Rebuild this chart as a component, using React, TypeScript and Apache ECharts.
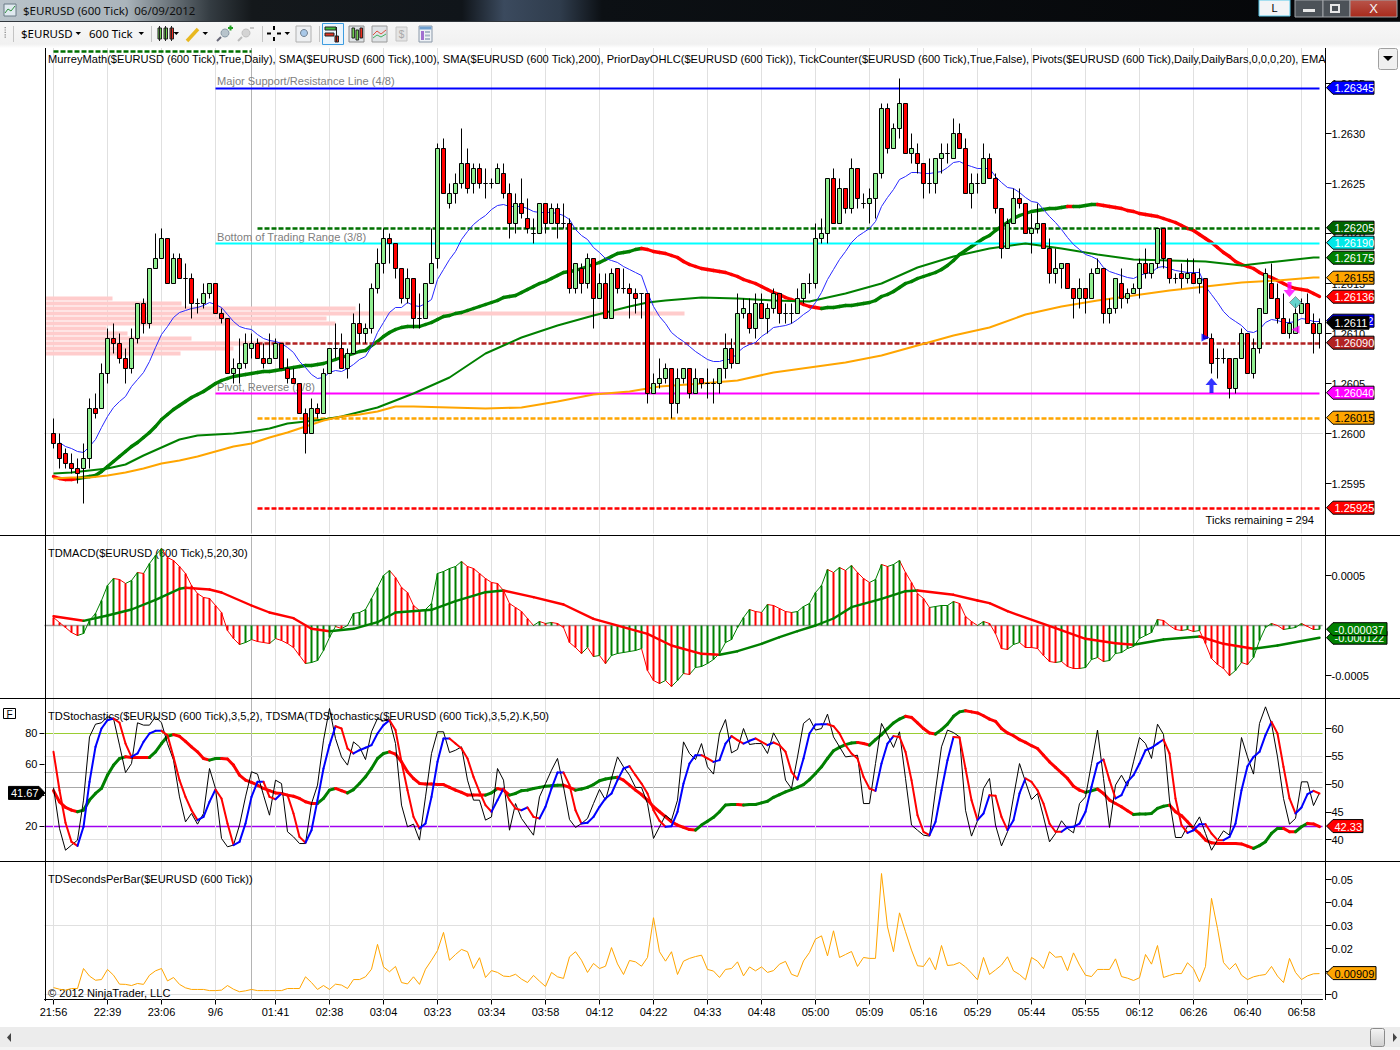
import React, { useEffect, useRef } from "react";
import * as echarts from "echarts";

// ---- Price data, in 1/100000 of a price unit ----
const opens = [
126000,125990,125980,125970,125965,125965,125975,126025,126025,126060,
126095,126090,126075,126065,126095,126130,126110,126165,126175,126195,
126150,126175,126155,126155,126130,126130,126140,126150,126120,126115,
126060,126065,126070,126085,126090,126075,126070,126075,126090,126065,
126055,126050,126020,126000,126025,126020,126060,126085,126085,126065,
126080,126110,126100,126105,126145,126170,126195,126190,126165,126135,
126155,126115,126115,126150,126175,126285,126230,126240,126250,126270,
126250,126265,126250,126250,126250,126260,126240,126210,126230,126215,
126200,126200,126230,126210,126225,126210,126210,126145,126165,126150,
126175,126135,126150,126115,126165,126145,126145,126140,126140,126140,
126040,126050,126055,126065,126030,126055,126065,126040,126055,126050,
126050,126050,126065,126085,126070,126120,126120,126105,126130,126115,
126125,126140,126120,126120,126120,126135,126150,126150,126195,126200,
126255,126210,126245,126225,126265,126230,126230,126235,126260,126325,
126285,126305,126330,126280,126280,126270,126250,126250,126275,126280,
126275,126300,126285,126240,126250,126250,126275,126255,126225,126185,
126210,126235,126230,126200,126205,126210,126185,126160,126165,126170,
126145,126135,126145,126135,126160,126165,126120,126125,126150,126135,
126140,126145,126170,126160,126170,126205,126175,126155,126160,126155,
126160,126150,126155,126095,126075,126075,126075,126045,126075,126100,
126060,126085,126120,126150,126135,126115,126100,126100,126120,126130,
126110,126100];
const closes = [
125990,125975,125970,125965,125960,125975,126025,126020,126060,126095,
126090,126075,126065,126095,126130,126110,126165,126175,126195,126150,
126175,126155,126155,126130,126130,126140,126150,126120,126115,126060,
126065,126070,126090,126090,126075,126070,126075,126090,126065,126055,
126050,126020,126000,126025,126020,126060,126085,126085,126065,126080,
126110,126100,126105,126145,126170,126195,126190,126165,126135,126155,
126115,126115,126150,126170,126285,126240,126240,126250,126270,126245,
126265,126250,126250,126250,126265,126240,126210,126230,126220,126205,
126200,126230,126210,126225,126210,126210,126145,126170,126150,126175,
126135,126150,126115,126160,126145,126145,126140,126135,126140,126040,
126050,126055,126065,126030,126055,126065,126040,126055,126050,126050,
126050,126065,126085,126070,126120,126125,126105,126130,126115,126125,
126140,126120,126120,126120,126135,126150,126150,126195,126200,126255,
126210,126245,126225,126265,126235,126230,126235,126260,126325,126285,
126305,126330,126280,126285,126270,126250,126250,126275,126280,126280,
126300,126285,126240,126250,126250,126275,126255,126225,126185,126210,
126235,126230,126200,126205,126210,126185,126160,126165,126170,126145,
126135,126145,126135,126160,126165,126120,126125,126155,126135,126140,
126145,126170,126160,126170,126205,126175,126155,126155,126155,126160,
126150,126155,126095,126070,126075,126075,126045,126075,126100,126060,
126085,126125,126160,126135,126115,126100,126110,126120,126130,126110,
126100,126110];
const lows = [
125985,125965,125965,125960,125950,125930,125965,126015,126025,126050,
126080,126070,126050,126060,126090,126100,126105,126165,126175,126150,
126150,126155,126125,126115,126120,126125,126135,126120,126110,126060,
126050,126050,126065,126075,126075,126065,126070,126075,126065,126050,
126050,126020,125980,126000,126015,126020,126060,126075,126065,126055,
126080,126090,126090,126100,126140,126160,126170,126155,126130,126130,
126105,126105,126115,126150,126165,126240,126225,126230,126245,126240,
126240,126245,126235,126245,126250,126235,126195,126200,126215,126200,
126190,126200,126200,126210,126195,126205,126140,126140,126140,126145,
126105,126135,126115,126115,126140,126140,126115,126120,126115,126030,
126040,126045,126050,126015,126020,126050,126035,126040,126045,126035,
126030,126040,126055,126065,126070,126115,126100,126095,126115,126100,
126120,126110,126110,126110,126120,126130,126140,126145,126190,126190,
126210,126210,126220,126220,126225,126225,126210,126215,126255,126280,
126285,126295,126280,126270,126260,126235,126240,126240,126260,126270,
126275,126285,126240,126225,126240,126250,126255,126220,126175,126185,
126210,126225,126200,126180,126200,126185,126150,126150,126145,126145,
126115,126125,126120,126135,126160,126110,126110,126120,126125,126130,
126140,126135,126155,126155,126165,126165,126150,126150,126145,126150,
126150,126140,126095,126060,126055,126070,126035,126040,126075,126060,
126055,126080,126120,126135,126110,126100,126095,126100,126120,126110,
126080,126085];
const highs = [
126015,126000,125985,125980,125975,125990,126035,126040,126070,126105,
126110,126100,126085,126105,126130,126135,126165,126200,126205,126195,
126180,126180,126170,126160,126135,126150,126150,126150,126125,126115,
126075,126095,126100,126100,126095,126090,126100,126095,126090,126075,
126065,126050,126025,126035,126030,126065,126085,126110,126100,126085,
126120,126130,126110,126150,126185,126205,126200,126190,126165,126165,
126155,126140,126150,126205,126290,126295,126250,126260,126305,126285,
126270,126270,126265,126255,126270,126270,126250,126240,126255,126235,
126215,126230,126230,126230,126230,126230,126215,126170,126170,126180,
126175,126160,126160,126165,126165,126165,126150,126145,126140,126140,
126060,126075,126070,126065,126065,126065,126065,126065,126055,126065,
126055,126065,126100,126095,126140,126135,126135,126140,126140,126130,
126145,126140,126130,126130,126145,126150,126160,126210,126215,126255,
126265,126255,126245,126275,126265,126240,126245,126260,126330,126330,
126310,126355,126330,126300,126290,126270,126275,126275,126290,126290,
126315,126310,126295,126260,126260,126290,126280,126260,126225,126215,
126245,126245,126230,126220,126230,126210,126195,126185,126170,126170,
126145,126155,126145,126165,126175,126165,126135,126155,126165,126145,
126150,126175,126185,126170,126205,126205,126175,126160,126170,126175,
126175,126165,126155,126100,126085,126085,126075,126075,126105,126100,
126095,126125,126165,126170,126150,126140,126115,126130,126135,126140,
126120,126115];

const emaFast = [
null,125991,125987,125985,125982,125981,125987,125994,126006,126017,
126026,126032,126037,126047,126054,126061,126072,126086,126099,126107,
126116,126121,126123,126125,126126,126128,126131,126129,126126,126119,
126112,126107,126105,126104,126099,126095,126093,126092,126090,126086,
126081,126072,126066,126059,126055,126056,126061,126063,126062,126065,
126069,126074,126077,126087,126101,126111,126121,126126,126126,126131,
126128,126127,126130,126134,126154,126164,126174,126182,126194,126202,
126209,126214,126218,126224,126228,126229,126227,126227,126227,126225,
126222,126221,126221,126221,126220,126218,126214,126204,126198,126194,
126186,126181,126175,126173,126171,126167,126164,126161,126158,126141,
126127,126117,126110,126101,126096,126092,126087,126082,126078,126074,
126072,126072,126074,126074,126081,126086,126089,126091,126097,126101,
126106,126107,126108,126110,126114,126119,126123,126131,126141,126154,
126164,126174,126182,126191,126197,126201,126205,126212,126227,126236,
126244,126254,126257,126261,126261,126260,126260,126261,126262,126266,
126271,126272,126269,126267,126265,126265,126265,126257,126251,126246,
126245,126241,126236,126232,126231,126224,126217,126211,126204,126196,
126189,126184,126179,126177,126174,126166,126162,126160,126158,126156,
126155,126158,126160,126161,126166,126167,126165,126163,126162,126161,
126161,126161,126147,126139,126131,126122,126116,126112,126108,126102,
126101,126104,126111,126114,126113,126111,126111,126112,126115,126114,
126112,126112];

const sma100 = [
125957,125955,125954,125954,125955,125956,125957,125958,125962,125967,
125972,125977,125982,125987,125991,125996,126001,126007,126014,126019,
126024,126028,126032,126036,126039,126042,126046,126050,126053,126055,
126057,126058,126059,126060,126061,126062,126062,126063,126064,126065,
126066,126067,126068,126068,126069,126070,126072,126074,126076,126078,
126080,126082,126083,126088,126092,126097,126101,126104,126106,126107,
126107,126107,126109,126111,126114,126117,126118,126120,126121,126123,
126125,126127,126129,126131,126133,126136,126137,126138,126141,126144,
126147,126150,126152,126155,126158,126161,126162,126163,126165,126167,
126169,126171,126174,126177,126180,126181,126182,126184,126185,126184,
126182,126181,126180,126178,126176,126172,126169,126167,126165,126164,
126163,126162,126161,126159,126157,126154,126152,126150,126147,126144,
126141,126139,126136,126134,126132,126129,126127,126126,126125,126126,
126126,126127,126128,126128,126129,126130,126131,126133,126137,126139,
126142,126146,126150,126152,126155,126157,126159,126161,126164,126168,
126173,126179,126183,126187,126191,126195,126198,126203,126207,126211,
126215,126218,126220,126222,126223,126224,126225,126225,126226,126227,
126227,126227,126228,126229,126229,126228,126227,126226,126225,126223,
126222,126220,126219,126218,126217,126215,126213,126211,126208,126205,
126203,126199,126195,126191,126186,126181,126177,126172,126169,126167,
126165,126161,126158,126156,126153,126150,126147,126145,126144,126143,
126140,126137];
const sma100RedRanges = [[0,4],[98,128],[169,170],[174,211]];

const sma200Points = [[0,125960],[3,125961],[6,125963],[9,125965],[12,125969],[15,125978],[18,125986],[21,125994],[24,125998],[27,125999],[30,126000],[33,126002],[36,126005],[39,126010],[42,126012],[45,126014],[48,126017],[54,126026],[60,126040],[66,126056],[72,126080],[78,126096],[84,126108],[90,126118],[96,126127],[99,126131],[102,126133],[108,126136],[114,126135],[120,126133],[126,126132],[132,126140],[138,126150],[144,126166],[150,126177],[156,126185],[162,126190],[168,126185],[174,126179],[180,126174],[186,126173],[192,126172],[198,126168],[204,126172],[210,126176],[211,126176]];
const emaSlowPoints = [[0,125955],[3,125956],[6,125956],[9,125958],[12,125961],[15,125965],[18,125970],[21,125973],[24,125977],[27,125982],[30,125987],[33,125990],[36,125996],[39,126001],[42,126007],[45,126013],[48,126017],[51,126019],[54,126022],[57,126027],[60,126027],[66,126026],[72,126025],[78,126026],[84,126032],[90,126039],[96,126042],[101,126047],[108,126050],[114,126053],[120,126061],[126,126066],[132,126071],[138,126078],[144,126088],[150,126098],[156,126106],[162,126119],[168,126127],[174,126133],[180,126138],[186,126143],[192,126147],[198,126151],[204,126153],[210,126156],[211,126156]];

// Murrey / prior-day levels
const levelPrices = [126345,126205,126190,126090,126040,126015,125925,126382];
const levelStartBars = [27,34,27,34,27,34,34,0];
const levelEndBars = [211,211,211,211,211,211,211,33];
const levelColors = ["#0000ff","#007000","#00ffff","#b22222","#ff00ff","#ffa500","#ff0000","#007000"];
const levelDashed = [false,true,false,true,false,true,true,true];

// Volume-by-price bands (band price, relative length)
const profilePrices = [126135,126130,126125,126120,126115,126110,126105,126100,126095,126090,126085,126080];
const profileLengths = [68,137,311,640,282,291,62,83,147,244,189,136];

// MACD, in 1/100000
const macdHist = [
8,3,-2,-7,-10,-8,5,12,25,40,
47,46,42,45,53,52,62,70,77,68,
65,59,52,40,32,28,27,20,13,-5,
-13,-19,-17,-14,-16,-17,-18,-13,-15,-18,
-22,-30,-38,-37,-35,-25,-12,-1,-3,0,
12,13,16,27,38,50,55,48,38,33,
20,15,16,22,52,54,57,59,64,59,
57,52,47,43,42,35,22,18,14,7,
0,4,2,3,2,-2,-17,-22,-28,-22,
-31,-30,-38,-30,-28,-27,-26,-25,-23,-45,
-55,-58,-55,-61,-55,-48,-49,-42,-41,-38,
-34,-28,-17,-14,-2,8,16,14,13,21,
20,17,14,13,14,19,22,33,40,56,
53,58,55,60,53,47,43,46,61,59,
61,65,53,43,32,27,18,19,20,20,
24,22,9,4,0,4,2,-8,-23,-24,
-19,-17,-22,-22,-23,-30,-36,-37,-36,-41,
-43,-43,-42,-34,-32,-36,-35,-28,-27,-23,
-21,-13,-10,-7,6,5,0,-4,-5,-4,
-6,-5,-18,-33,-39,-43,-50,-45,-37,-39,
-32,-15,-2,2,0,-4,-3,-2,2,-1,
-4,-3.7];
const macdSignalPoints = [[0,9.3],[5,4.7],[9,10],[13,16],[17,25.7],[21,36.7],[22,37.7],[26,36],[28,33],[33,20],[36,13],[40,7.3],[43,-3.3],[46,-5.7],[50,-3.3],[54,3.3],[57,13],[63,15.7],[67,24.3],[72,33.3],[75,35],[80,28.3],[85,21],[90,6.7],[96,-3.3],[99,-8.3],[103,-20],[108,-28.3],[111,-29.3],[114,-25.7],[118,-18.3],[121,-11.7],[124,-5.7],[127,0],[130,7],[133,18.3],[138,26.7],[142,34.3],[144,35],[150,30.7],[154,25],[156,22.3],[159,14.3],[167,-2.7],[172,-13.3],[177,-17.7],[180,-19.3],[185,-14],[191,-11],[195,-18.3],[200,-23.3],[204,-20],[211,-12.2]];

// Stochastics, left scale
const stochK = [
45.2,18.7,4.7,8,11.2,37,77.8,86,86.9,90.8,
89.7,72.5,54.8,60.6,86.9,85.4,85.4,90.8,86.9,73.5,
62.8,39.1,23,28.4,21.5,28.4,57.4,44.5,12.3,6.9,
8,20.9,39.1,55.3,53.8,40.2,27.3,49.9,47.7,16.6,
13.3,9,9,34.8,46.7,75.7,96.1,76.8,64.9,59.6,
74.6,71.4,63.2,81.1,89.7,88.2,88.6,73.5,33.8,19.8,
21.5,11.2,39.1,67.1,81.1,81.1,67.7,69.2,71.4,49.9,
37,37,24.1,26.2,57.4,49.9,17.6,34.8,25.2,19.8,
14.4,39.1,47.7,56.3,63.9,45.6,24.5,19.4,21.9,25.2,
34.8,43.9,37,51,64.9,58.5,53.1,45.2,45.2,34.8,
12.3,19.8,27.3,24.1,37,74.6,67.1,63.2,73.5,58.5,
53.8,80,89,67.5,69.7,83.2,72.9,73.5,73.5,67.1,
80.4,73.5,49.9,44.5,64.9,86.5,89.7,82.2,83.2,92.5,
77.8,71.4,64.9,65.4,66,34.8,34.8,60.6,86.5,78.9,
71,81.1,51,20.9,17.6,14.4,13.8,43.4,71.4,82.2,
80.6,77.8,30.5,13.8,23.7,44.5,51,20.9,7.5,16.6,
39.1,60.6,48.8,37.4,41.3,26.2,10.1,15.5,23.7,18.7,
15.9,34.8,39.1,60.6,82.2,51,19.4,46.7,53.1,46,
61.7,77.4,73.5,63.9,86,79.4,37,12.9,12.9,20.2,
19.8,26.2,15.5,4.7,11.2,17.2,14.4,45.6,77.4,64.9,
53.8,86.5,97.2,86.5,64.9,38.1,21.5,25.2,48.8,48.8,
33.5,41.67];
const stochD = [
68.2,43.4,22.4,10.1,7.5,19.8,48.8,71.4,83.2,88.6,
89.7,86.9,73.5,64.9,67.1,74.6,80,81.7,81.7,78.9,
64.9,49.9,39.1,30.5,24.1,26.2,35.9,43.9,38.1,21.9,
8,10.1,21.9,39.1,48.8,48.8,39.1,37.6,41.3,40.2,
28.4,13.3,9.5,17.6,37,57.4,72.5,84.7,83.2,70.3,
67.1,69.2,70.8,72.5,80,85.4,88.6,82.2,61.7,43.4,
26.2,18.7,21.9,39.1,61.7,76.8,76.8,73.5,70.3,63.9,
52,42.4,33.8,29.5,37,44.5,37,31.6,30.5,32.3,
26.2,25.2,32.7,44.5,54.8,54.8,46.7,30.5,21.9,22.4,
26.2,32.7,38.1,41.3,49.9,57.4,58.9,53.1,47.7,41.3,
30.5,23.7,19.8,20.2,29.5,47.7,60.6,66,66,63.9,
61.7,62.8,73.5,78.3,75.7,73.5,75.3,76.8,74.6,72.5,
74.2,72.5,68.2,55.3,50.3,63.9,80,85.8,86,86,
84.7,80,72.5,67.1,63.9,52,44.5,43,60.6,73.5,
78.3,77.8,68.2,49.9,27.3,16.6,14.4,23,43.4,62.8,
77.8,77.4,57.4,37,24.1,28.4,40.2,39.8,26.2,17.6,
24.1,41.3,51,48.8,43.4,34.8,21.9,16.6,16.6,19.4,
19.8,21.9,29.5,45.6,60.6,63.2,49.9,38.1,40.2,48.8,
53.1,60.6,69.2,70.8,73.5,76.1,67.1,38.1,20.9,15.9,
17.6,21.5,21.5,15.5,11.2,11.2,13.3,21.9,43.4,58.9,
64.9,68.2,78.9,87.5,80,58.5,38.1,28.4,32.3,40.9,
43,41.3];
// TDSMA of the stochastic, right scale
const stochSma = [
48.8,46.8,45.8,45.3,45,45.3,47.1,48.3,49.2,51.6,
53.4,54.6,54.9,54.8,54.8,54.8,54.8,55.8,57.3,58.6,
58.9,58.6,57.7,56.7,55.8,54.6,54.3,54.6,54.6,54.5,
53.4,51.6,50.7,50.3,49.8,49.2,48.8,48.4,48.3,48,
47.8,47.4,46.8,46.5,46.5,47.4,48.9,49.2,48.8,48.4,
49,50.1,51.3,52.8,54.6,55.5,55.8,55.4,54,52.2,
51,50.1,50,50,49.9,49.9,49.4,48.9,48.5,48,
48,48,48,48.4,49.2,48.9,48,48.3,48.8,48.9,
49.2,49.4,49.6,49.7,49.8,49.8,49.4,48.9,49.1,49.4,
49.9,50.6,50.9,51.1,51.2,50.7,49.8,48.9,48.1,47.1,
45.9,45,44.1,43.2,42.6,42.2,41.8,41.7,42.6,43.3,
44,45,46.2,46.3,46.3,46.2,46.3,46.3,46.6,46.9,
47.6,48.1,48.6,49,49.4,49.9,50.8,51.9,53.1,54.6,
56,56.6,57.1,57.4,57.5,57.3,57,58,58.9,60,
61,61.7,62.2,62,61,60,59.2,59,59.8,60.8,
62.2,63,63.2,63,62.8,62.3,61.7,61.3,60,59.2,
58.7,58,57.5,56.9,56.4,55.2,54,53,52,51,
49.6,48.9,48.5,48.8,49.1,48.3,47.1,46.5,45.9,45.2,
44.5,44.6,44.6,44.7,45.6,46,46.2,45,44.3,43.2,
42,41.1,39.9,39.4,39.3,39.3,39.3,39.3,39.2,38.8,
38.4,38.9,39.6,41.1,42,42,41.4,41.4,42.3,42.9,
42.8,42.33];

const secondsPerBar = [
.0030,.0023,.0019,.0026,.0026,.0113,.0080,.0062,.0065,.0109,
.0084,.0045,.0044,.0039,.0048,.0044,.0084,.0103,.0113,.0059,
.0074,.0044,.0029,.0022,.0022,.0022,.0017,.0017,.0019,.0039,
.0023,.0012,.0016,.0022,.0017,.0017,.0017,.0017,.0017,.0026,
.0026,.0026,.0077,.0052,.0022,.0039,.0022,.0045,.0041,.0026,
.0065,.0065,.0077,.0110,.0218,.0120,.0099,.0122,.0052,.0046,
.0077,.0044,.0110,.0149,.0191,.0270,.0149,.0174,.0196,.0186,
.0113,.0160,.0074,.0104,.0096,.0080,.0078,.0088,.0067,.0052,
.0083,.0058,.0035,.0096,.0077,.0070,.0164,.0186,.0149,.0096,
.0135,.0113,.0123,.0204,.0133,.0087,.0148,.0142,.0123,.0161,
.0334,.0186,.0145,.0186,.0087,.0145,.0157,.0165,.0171,.0109,
.0102,.0074,.0109,.0113,.0142,.0081,.0120,.0103,.0120,.0096,
.0104,.0132,.0144,.0088,.0078,.0146,.0183,.0241,.0255,.0168,
.0277,.0161,.0174,.0187,.0122,.0161,.0157,.0157,.0526,.0294,
.0186,.0355,.0273,.0193,.0125,.0122,.0160,.0107,.0213,.0126,
.0129,.0139,.0120,.0093,.0064,.0161,.0087,.0107,.0128,.0164,
.0103,.0087,.0064,.0161,.0145,.0113,.0186,.0162,.0165,.0104,
.0181,.0128,.0084,.0078,.0109,.0109,.0109,.0155,.0078,.0071,
.0061,.0073,.0174,.0132,.0213,.0074,.0083,.0091,.0091,.0138,
.0112,.0055,.0122,.0418,.0287,.0139,.0109,.0135,.0084,.0065,
.0077,.0083,.0087,.0122,.0080,.0052,.0157,.0096,.0065,.0081,
.0090,.00909];

// Axis
const tickBars = [0,9,18,27,37,46,55,64,73,82,91,100,109,118,127,136,145,154,163,172,181,190,199,208];
const tickLabels = ["21:56","22:39","23:06","9/6","01:41","02:38","03:04","03:23","03:34","03:58","04:12","04:22","04:33","04:48","05:00","05:09","05:16","05:29","05:44","05:55","06:12","06:26","06:40","06:58"];
const sessionBreakBar = 33;
const priceTicks = [1.2595,1.26,1.2605,1.261,1.2615,1.262,1.2625,1.263,1.2635];
const macdTicks = [0.0005,-0.0005];
const stochLeftTicks = [20,40,60,80];
const stochRightTicks = [40,45,50,55,60];
const secondsTicks = [0,0.01,0.02,0.03,0.04,0.05];

const FONT = "Liberation Sans";
const UP = "#008000", DOWN = "#ff0000";
const N = opens.length;
const px = (v: number) => v / 1e5;
const cat = (i: number) => i + 1; // a blank leading slot pads the left edge of the plots
const lead = (a: any[]) => [null, ...a];

function slopeColors(vals: number[], up: string, down: string) {
  const out: string[] = [];
  let c = down;
  vals.forEach((v, i) => {
    if (i > 0) { if (v > vals[i - 1]) c = up; else if (v < vals[i - 1]) c = down; }
    out.push(c);
  });
  if (out.length > 1) out[0] = out[1];
  return out;
}

function segSeries(points: number[][], colors: string[], width: number, xIdx: number, yIdx: number, z = 3) {
  return {
    type: "custom", coordinateSystem: "cartesian2d", xAxisIndex: xIdx, yAxisIndex: yIdx, z, silent: true,
    data: points, encode: { x: 0, y: 1 },
    renderItem: (params: any, api: any) => {
      const i = params.dataIndex;
      if (i === 0) return null;
      const a = api.coord(points[i - 1]);
      const b = api.coord(points[i]);
      return { type: "line", shape: { x1: a[0], y1: a[1], x2: b[0], y2: b[1] }, style: { stroke: colors[i], lineWidth: width, lineCap: "round" } };
    },
  };
}

function gridSeries(xIdx: number, yIdx: number, anchor: number, hs: any[], verticals: boolean) {
  const vs = verticals ? [
    ...tickBars.map((b) => ({ xAxis: cat(b), lineStyle: { color: "#e0e0e0", width: 1, type: "solid" } })),
    { xAxis: cat(sessionBreakBar), lineStyle: { color: "#b4b4b4", width: 1, type: "solid" } },
  ] : [];
  return {
    type: "line", xAxisIndex: xIdx, yAxisIndex: yIdx, z: 1, silent: true, symbol: "none",
    data: [[1, anchor]], lineStyle: { opacity: 0 },
    markLine: {
      z: 1, silent: true, symbol: ["none", "none"], label: { show: false }, animation: false,
      emphasis: { disabled: true },
      data: [...hs.map((h) => ({ yAxis: h[0], lineStyle: { color: h[1], width: h[2] || 1, type: "solid" } })), ...vs],
    },
  };
}

function buildOption() {
  const L = 44.5, W = 1278;
  const grids = [
    { left: L, width: W, top: 47.5, height: 486 },
    { left: L, width: W, top: 536.5, height: 162 },
    { left: L, width: W, top: 698.5, height: 162 },
    { left: L, width: W, top: 861.5, height: 138 },
  ];
  const cats = ["", ...Array.from({ length: N }, (_, i) => { const k = tickBars.indexOf(i); return k >= 0 ? tickLabels[k] : ""; })];
  const isTick = (index: number) => tickBars.includes(index - 1);
  const xAxis: any[] = grids.map((_, g) => ({
    type: "category", gridIndex: g, data: cats, boundaryGap: true,
    axisLine: { show: g === 3, onZero: false, lineStyle: { color: "#000" } },
    axisTick: { show: g === 3, alignWithLabel: true, interval: isTick, length: 5, lineStyle: { color: "#000" } },
    axisLabel: { show: g === 3, interval: isTick, margin: 7, color: "#000", fontSize: 11, fontFamily: FONT, hideOverlap: false },
    splitLine: { show: false },
  }));
  xAxis.push({ type: "value", gridIndex: 0, min: 0, max: W, show: false });

  const rightAxis = (g: number, min: number, max: number, ticks: number[], fmt: (v: number) => string) => ({
    type: "value", gridIndex: g, position: "right", offset: 3, min, max, scale: true,
    axisLine: { show: false, onZero: false },
    axisTick: { show: true, length: 6, customValues: ticks, lineStyle: { color: "#000" } },
    axisLabel: { show: true, customValues: ticks, formatter: fmt, margin: 6, color: "#000", fontSize: 11, fontFamily: FONT, showMinLabel: true, showMaxLabel: true },
    splitLine: { show: false },
  });
  const yAxis: any[] = [
    rightAxis(0, 1.259, 1.26386, priceTicks, (v) => v.toFixed(4)),
    rightAxis(1, -0.00073, 0.00089, macdTicks, (v) => v.toFixed(4)),
    {
      type: "value", gridIndex: 2, position: "left", min: -1.94, max: 102.58,
      axisLine: { show: false, onZero: false },
      axisTick: { show: true, length: 5, customValues: stochLeftTicks, lineStyle: { color: "#000" } },
      axisLabel: { show: true, customValues: stochLeftTicks, margin: 7, color: "#000", fontSize: 11, fontFamily: FONT },
      splitLine: { show: false },
    },
    rightAxis(2, 36.22, 65.41, stochRightTicks, (v) => String(v)),
    rightAxis(3, -0.00217, 0.05783, secondsTicks, (v) => (v === 0 ? "0" : v.toFixed(2))),
  ];

  const series: any[] = [];
  // ---- grid lines ----
  series.push(gridSeries(0, 0, 1.26, priceTicks.map((v) => [v, "#e0e0e0"]), true));
  series.push(gridSeries(1, 1, 0, [[0.0005, "#e0e0e0"], [-0.0005, "#e0e0e0"]], true));
  series.push(gridSeries(2, 2, 50, [[80, "#9acd32"], [55, "#a8a8a8"], [45, "#a8a8a8"], [20, "#a000f0", 1.3]], true));
  series.push(gridSeries(2, 3, 50, [[55, "#e0e0e0"], [40, "#e0e0e0"]], false));
  series.push(gridSeries(3, 4, 0, [[0, "#e0e0e0"], [0.03, "#e0e0e0"]], true));

  // ---- volume profile ----
  series.push({
    type: "custom", coordinateSystem: "cartesian2d", xAxisIndex: 4, yAxisIndex: 0, z: 2, silent: true,
    data: profilePrices.map((p, i) => [profileLengths[i], px(p)]), encode: { x: 0, y: 1 },
    renderItem: (_: any, api: any) => {
      const a = api.coord([0, api.value(1)]);
      const b = api.coord([api.value(0), api.value(1)]);
      return { type: "rect", shape: { x: a[0] + 1.5, y: a[1] - 2, width: b[0] - a[0] - 1.5, height: 4 }, style: { fill: "#ffcccc" } };
    },
  });

  // ---- levels ----
  levelPrices.forEach((p, i) => {
    series.push({
      type: "line", xAxisIndex: 0, yAxisIndex: 0, z: 3, silent: true, symbol: "none",
      data: [[cat(levelStartBars[i]), px(p)], [cat(levelEndBars[i]), px(p)]],
      lineStyle: levelDashed[i] ? { color: levelColors[i], width: 2.4, type: [5, 2] } : { color: levelColors[i], width: 2, type: "solid" },
    });
  });

  // ---- moving averages ----
  const inRed = (i: number) => sma100RedRanges.some(([a, b]) => i > a && i <= b);
  series.push(segSeries(sma100.map((v, i) => [cat(i), px(v)]), sma100.map((_, i) => (inRed(i) ? DOWN : UP)), 3.4, 0, 0));
  series.push({ type: "line", xAxisIndex: 0, yAxisIndex: 0, z: 3, silent: true, symbol: "none", data: sma200Points.map(([b, v]) => [cat(b), px(v)]), lineStyle: { color: "#008000", width: 2 } });
  series.push({ type: "line", xAxisIndex: 0, yAxisIndex: 0, z: 3, silent: true, symbol: "none", data: emaSlowPoints.map(([b, v]) => [cat(b), px(v)]), lineStyle: { color: "#ffa500", width: 2 } });
  series.push({ type: "line", xAxisIndex: 0, yAxisIndex: 0, z: 3, silent: true, symbol: "none", data: lead(emaFast.map((v) => (v == null ? null : px(v)))), lineStyle: { color: "#2a2aff", width: 1 }, connectNulls: false });

  // ---- candles ----
  series.push({
    type: "candlestick", xAxisIndex: 0, yAxisIndex: 0, z: 4, silent: true, barWidth: 5,
    data: [["-", "-", "-", "-"], ...opens.map((o, i) => [px(o), px(closes[i]), px(lows[i]), px(highs[i])])],
    itemStyle: { color: "#90ee90", color0: "#ff0000", borderColor: "#000", borderColor0: "#000", borderColorDoji: "#000", borderWidth: 1 },
  });
  series.push({
    type: "scatter", xAxisIndex: 0, yAxisIndex: 0, z: 5, silent: true,
    data: [
      { value: [cat(193), 1.26048], symbol: "path://M6,0 L12,7 L8,7 L8,15 L4,15 L4,7 L0,7 Z", symbolSize: [12, 15], itemStyle: { color: "#0000ff" } },
      { value: [cat(206), 1.26144], symbol: "path://M6,0 L12,7 L8,7 L8,15 L4,15 L4,7 L0,7 Z", symbolSize: [12, 15], symbolRotate: 180, itemStyle: { color: "#ff00ff" } },
      { value: [cat(207), 1.26131], symbol: "diamond", symbolSize: 12, itemStyle: { color: "#40c8c0", borderColor: "#808080", borderWidth: 1 } },
      { value: [cat(192), 1.26096], symbol: "triangle", symbolRotate: 270, symbolSize: 8, itemStyle: { color: "#0000ff" } },
      { value: [cat(207), 1.26104], symbol: "triangle", symbolRotate: 90, symbolSize: 8, itemStyle: { color: "#ff00ff" } },
    ],
  });

  // ---- MACD ----
  const macdColors = slopeColors(macdHist, UP, DOWN);
  series.push({
    type: "bar", xAxisIndex: 1, yAxisIndex: 1, z: 3, silent: true, barWidth: 2,
    data: [null, ...macdHist.map((v, i) => ({ value: v * 1e-5, itemStyle: { color: macdColors[i] } }))],
  });
  series.push(gridSeries(1, 1, 0, [[0, "#a0a0a0", 1.4]], false));
  series.push(segSeries(macdHist.map((v, i) => [cat(i), v * 1e-5]), macdColors, 1, 1, 1));
  const sig = macdSignalPoints.map(([b, v]) => v);
  series.push(segSeries(macdSignalPoints.map(([b, v]) => [cat(b), v * 1e-5]), slopeColors(sig, UP, DOWN), 2.4, 1, 1, 4));

  // ---- Stochastics ----
  series.push({ type: "line", xAxisIndex: 2, yAxisIndex: 2, z: 3, silent: true, symbol: "none", data: lead(stochK), lineStyle: { color: "#000", width: 1 } });
  series.push(segSeries(stochSma.map((v, i) => [cat(i), v]), slopeColors(stochSma, UP, DOWN), 3, 2, 3, 3));
  series.push(segSeries(stochD.map((v, i) => [cat(i), v]), slopeColors(stochD, "#0000ff", DOWN), 2, 2, 2, 4));

  // ---- Seconds per bar ----
  series.push({ type: "line", xAxisIndex: 3, yAxisIndex: 4, z: 3, silent: true, symbol: "none", data: lead(secondsPerBar), lineStyle: { color: "#ffa500", width: 1 } });

  return { animation: false, backgroundColor: "#fff", textStyle: { fontFamily: FONT }, grid: grids, xAxis, yAxis, series };
}

// ---- helpers for the surrounding elements ----
const rect = (x: number, y: number, w: number, h: number, fill: any, extra: any = {}) => ({ type: "rect", z: 10, silent: true, shape: { x, y, width: w, height: h, ...(extra.r ? { r: extra.r } : {}) }, style: { fill, stroke: extra.stroke, lineWidth: extra.lw || 1 } });
const hl = (x1: number, y1: number, x2: number, y2: number, stroke: string, lw = 1, z = 8) => ({ type: "line", z, silent: true, shape: { x1, y1, x2, y2 }, style: { stroke, lineWidth: lw } });
const txt = (x: number, y: number, text: string, opt: any = {}) => ({
  type: "text", z: opt.z ?? 2, silent: true, x, y,
  style: { text, fill: opt.fill || "#000", fontSize: opt.size || 11.1, fontFamily: opt.font || FONT, align: opt.align || "left", verticalAlign: "middle" },
});
const poly = (points: number[][], fill: string, stroke?: string, z = 10) => ({ type: "polygon", z, silent: true, shape: { points }, style: { fill, stroke, lineWidth: 1 } });

function tag(rawY: number, text: string, fill: string, fg: string, right: number, lift = 0.8) {
  const y = rawY - lift;
  const h = 6.5;
  return [
    poly([[1326.5, y], [1333, y - h], [right, y - h], [right, y + h], [1333, y + h]], fill, "#000", 12),
    { ...txt(1334.5, y + 0.5, text, { fill: fg, z: 12, size: 11 }) },
  ];
}

function chrome() {
  const UI = "Noto Sans";
  const g: any[] = [];
  const titleGrad = new echarts.graphic.LinearGradient(0, 0, 1, 0, [
    { offset: 0, color: "#b9c3ca" }, { offset: 0.09, color: "#aab4bb" }, { offset: 0.15, color: "#343c42" },
    { offset: 0.18, color: "#14181b" }, { offset: 0.33, color: "#10151a" }, { offset: 0.36, color: "#3b4a5e" },
    { offset: 0.4, color: "#2f3c4c" }, { offset: 0.43, color: "#0c1014" }, { offset: 1, color: "#050608" },
  ]);
  g.push(rect(0, 0, 1400, 21, titleGrad));
  g.push(rect(0, 21, 1400, 1, "#30363c"));
  g.push(rect(0, 22, 1400, 26, new echarts.graphic.LinearGradient(0, 0, 0, 1, [{ offset: 0, color: "#f7f7f7" }, { offset: 0.85, color: "#f1f1f1" }, { offset: 1, color: "#ffffff" }])));
  g.push(rect(4, 4, 12, 12, "#dfe9ef", { stroke: "#6a7a86" }));
  g.push({ type: "polyline", z: 11, silent: true, shape: { points: [[5, 13], [8, 9], [11, 11], [15, 6]] }, style: { stroke: "#2f8f3f", fill: null, lineWidth: 1 } });
  g.push(txt(23, 10.5, "$EURUSD (600 Tick)  06/09/2012", { size: 11.5, font: UI, fill: "#101010", z: 11 }));
  // window buttons
  g.push(rect(1259, 0, 31, 16, "#f2f4f6", { stroke: "#58c8e8" }));
  g.push(txt(1274.5, 8, "L", { size: 11, align: "center", z: 11, font: FONT }));
  g.push(rect(1295, 0, 28, 17, "#4c5258", { stroke: "#a0a4a8" }));
  g.push(rect(1303, 9, 12, 3, "#e8e8e8"));
  g.push(rect(1323, 0, 27, 17, "#4c5258", { stroke: "#a0a4a8" }));
  g.push(rect(1331, 5, 8, 7, "none", { stroke: "#e8e8e8", lw: 2 }));
  g.push(rect(1350, 0, 47, 17, new echarts.graphic.LinearGradient(0, 0, 0, 1, [{ offset: 0, color: "#b8554a" }, { offset: 1, color: "#a82a1c" }]), { stroke: "#a0a4a8" }));
  g.push(txt(1373.5, 8, "X", { size: 13, align: "center", fill: "#f4f4f4", z: 11 }));

  // toolbar
  for (let i = 0; i < 5; i++) g.push(rect(4.5, 27 + i * 2.4, 1.5, 1.2, "#999"));
  [13.5, 151.5, 262.5, 319.5].forEach((x) => g.push(hl(x, 26, x, 42, "#c4c4c4", 1, 11)));
  g.push(txt(21, 33.5, "$EURUSD", { size: 11.5, font: UI, z: 11 }));
  g.push(poly([[75.5, 32], [81, 32], [78.3, 35]], "#000", undefined, 11));
  g.push(txt(89, 33.5, "600 Tick", { size: 11.5, font: UI, z: 11 }));
  g.push(poly([[138.5, 32], [144, 32], [141.3, 35]], "#000", undefined, 11));
  // candle icon
  [[158, "#70d050"], [164, "#70d050"], [170, "#f03020"]].forEach(([x, c]: any) => {
    g.push(hl(x + 1.5, 26, x + 1.5, 41, "#222", 1, 11));
    g.push(rect(x, 28, 3.5, 11, c, { stroke: "#222" }));
  });
  g.push(poly([[173.5, 32], [179, 32], [176.3, 35]], "#000", undefined, 11));
  g.push(hl(187, 41, 198, 29, "#e8b820", 3.5, 11));
  g.push(poly([[202.5, 32], [208, 32], [205.3, 35]], "#000", undefined, 11));
  g.push({ type: "circle", z: 11, silent: true, shape: { cx: 225, cy: 33, r: 4 }, style: { fill: "#b8c4cc", stroke: "#8898a4" } });
  g.push(hl(221, 37, 217, 41, "#667", 2, 11));
  g.push(hl(228, 28, 233, 28, "#20a020", 2, 11));
  g.push(hl(230.5, 25.5, 230.5, 30.5, "#20a020", 2, 11));
  g.push({ type: "circle", z: 11, silent: true, shape: { cx: 246, cy: 33, r: 4 }, style: { fill: "#d4d4d4", stroke: "#c0c0c0" } });
  g.push(hl(242, 37, 238, 41, "#bbb", 2, 11));
  g.push(hl(250, 28, 254, 28, "#c8c8c8", 2, 11));
  g.push(hl(267, 33.5, 271, 33.5, "#000", 2, 11)); g.push(hl(277, 33.5, 281, 33.5, "#000", 2, 11));
  g.push(hl(274, 26, 274, 30, "#000", 2, 11)); g.push(hl(274, 37, 274, 41, "#000", 2, 11));
  g.push(poly([[284.5, 32], [290, 32], [287.3, 35]], "#000", undefined, 11));
  g.push(rect(296, 26, 15, 16, "#eef0f2", { stroke: "#b0b0b0" }));
  g.push({ type: "circle", z: 11, silent: true, shape: { cx: 304, cy: 33, r: 3.5 }, style: { fill: "#a8c8e8", stroke: "#708090" } });
  g.push(rect(322.5, 23.5, 21, 21, "#eaf4fc", { stroke: "#3c9ce0" }));
  g.push(rect(325, 27, 11, 3, "#40c040", { stroke: "#222" })); g.push(rect(325, 33, 9, 3, "#e03020", { stroke: "#222" }));
  g.push(hl(336.5, 27, 336.5, 42, "#222", 1, 11)); g.push(rect(335, 36, 3.5, 6, "#e03020", { stroke: "#222" }));
  g.push(rect(349, 26, 15, 16, "#dfe3e6", { stroke: "#8a8a8a" }));
  g.push(rect(352, 28, 2.6, 10, "#70d050", { stroke: "#222" })); g.push(rect(356, 30, 2.6, 10, "#70d050", { stroke: "#222" })); g.push(rect(360, 28, 2.6, 10, "#f03020", { stroke: "#222" }));
  g.push(rect(372, 26, 15, 16, "#dfe3e6", { stroke: "#9a9a9a" }));
  g.push({ type: "polyline", z: 11, silent: true, shape: { points: [[373, 35], [377, 31], [381, 34], [386, 30]] }, style: { stroke: "#e05040", fill: null } });
  g.push({ type: "polyline", z: 11, silent: true, shape: { points: [[373, 38], [377, 35], [381, 37], [386, 34]] }, style: { stroke: "#40b060", fill: null } });
  g.push(rect(396, 27, 11, 14, "#e4e4e4", { stroke: "#c4c4c4" }));
  g.push(txt(401.5, 34, "$", { size: 10, align: "center", fill: "#a8a8a8", z: 11, font: FONT }));
  g.push(rect(419, 26, 13, 16, "#eef2f6", { stroke: "#8a98a8" }));
  g.push(rect(419.5, 26.5, 12, 3, "#70a0d0")); g.push(rect(421, 31, 3, 9, "#a070d0")); g.push(rect(425, 31, 5, 2, "#a8b8c8")); g.push(rect(425, 34.5, 5, 2, "#a8b8c8")); g.push(rect(425, 38, 5, 2, "#a8b8c8"));

  // dropdown button
  g.push(rect(1378.5, 48.5, 19, 21, "#f0f0f0", { stroke: "#a0a0a0", r: 2 }));
  g.push(poly([[1383, 56], [1393, 56], [1388, 61]], "#000", undefined, 11));

  // frame lines
  [535.5, 698.5, 861.5].forEach((y) => g.push(hl(0, y, 1400, y, "#000", 1, 8)));
  g.push(hl(45.5, 48, 45.5, 1001, "#000", 1, 8));
  g.push(hl(1325.5, 48, 1325.5, 1000, "#000", 1, 8));

  // F box
  g.push(rect(3.5, 708.5, 12, 10, "#fff", { stroke: "#000" }));
  g.push(txt(9.5, 714, "F", { size: 10, align: "center", z: 11 }));

  // scrollbar
  g.push(rect(0, 1027, 1400, 20, "#ececec"));
  g.push(rect(0, 1047, 1400, 3, "#f4f4f4"));
  g.push(poly([[11, 1033], [7, 1037.5], [11, 1042]], "#444", undefined, 11));
  g.push(poly([[1393, 1033], [1397, 1037.5], [1393, 1042]], "#444", undefined, 11));
  g.push(rect(1370.5, 1028.5, 14, 18, new echarts.graphic.LinearGradient(0, 0, 0, 1, [{ offset: 0, color: "#f4f4f4" }, { offset: 1, color: "#cfcfcf" }]), { stroke: "#8a8a8a", r: 2 }));

  // pane captions
  g.push(txt(48, 59, "MurreyMath($EURUSD (600 Tick),True,Daily), SMA($EURUSD (600 Tick),100), SMA($EURUSD (600 Tick),200), PriorDayOHLC($EURUSD (600 Tick)), TickCounter($EURUSD (600 Tick),True,False), Pivots($EURUSD (600 Tick),Daily,DailyBars,0,0,0,20), EMA"));
  g.push(txt(217, 81, "Major Support/Resistance Line (4/8)", { fill: "#808080" }));
  g.push(txt(217, 237, "Bottom of Trading Range (3/8)", { fill: "#808080" }));
  g.push(txt(217, 387, "Pivot, Reverse (2/8)", { fill: "#808080" }));
  g.push(txt(1314, 520, "Ticks remaining = 294", { align: "right" }));
  g.push(txt(48, 553, "TDMACD($EURUSD (600 Tick),5,20,30)"));
  g.push(txt(48, 716, "TDStochastics($EURUSD (600 Tick),3,5,2), TDSMA(TDStochastics($EURUSD (600 Tick),3,5,2).K,50)"));
  g.push(txt(48, 879, "TDSecondsPerBar($EURUSD (600 Tick))"));
  g.push(txt(48, 993, "© 2012 NinjaTrader, LLC"));
  return g;
}

function tags(chart: any) {
  const y = (axis: number, v: number) => chart.convertToPixel({ yAxisIndex: axis }, v);
  const g: any[] = [];
  const main: any[] = [
    [1.26345, "1.26345", "#0000ff", "#fff", 1374],
    [1.26205, "1.26205", "#006400", "#fff", 1374],
    [1.2619, "1.26190", "#00e8e8", "#fff", 1374],
    [1.26175, "1.26175", "#008000", "#fff", 1374],
    [1.26155, "1.26155", "#ffa500", "#000", 1374],
    [1.26136, "1.26136", "#ff0000", "#fff", 1374],
    [1.26112, "1.26112", "#0000ff", "#fff", 1374],
    [1.2611, "1.2611", "#000000", "#fff", 1369],
    [1.2609, "1.26090", "#b22222", "#fff", 1374],
    [1.2604, "1.26040", "#ff00ff", "#fff", 1374],
    [1.26015, "1.26015", "#ffa500", "#000", 1374],
    [1.25925, "1.25925", "#ff0000", "#fff", 1374],
  ];
  main.forEach(([v, t, f, c, r]) => g.push(...tag(y(0, v), t, f, c, r)));
  g.push(...tag(y(1, -0.000122), "-0.000122", "#008000", "#fff", 1387, 0));
  g.push(...tag(y(1, -0.000037), "-0.000037", "#008000", "#fff", 1387, 0));
  g.push(...tag(y(3, 42.33), "42.33", "#ff0000", "#fff", 1363, 0.5));
  g.push(...tag(y(4, 0.00909), "0.00909", "#ffa500", "#000", 1376, 0.5));
  const ly = y(2, 41.67);
  g.push(poly([[45, ly], [39, ly - 6.5], [8.5, ly - 6.5], [8.5, ly + 6.5], [39, ly + 6.5]], "#000", "#000", 12));
  g.push(txt(11, ly + 0.5, "41.67", { fill: "#fff", z: 12, size: 11 }));
  return g;
}

export default function App() {
  const ref = useRef<HTMLDivElement>(null);
  useEffect(() => {
    document.body.style.margin = "0";
    const chart = echarts.init(ref.current!, null, { renderer: "svg", width: 1400, height: 1050 });
    chart.setOption(buildOption());
    chart.setOption({ graphic: { elements: [...chrome(), ...tags(chart)] } });
    return () => chart.dispose();
  }, []);
  return <div ref={ref} style={{ position: "absolute", left: 0, top: 0, width: 1400, height: 1050, background: "#fff" }} />;
}
